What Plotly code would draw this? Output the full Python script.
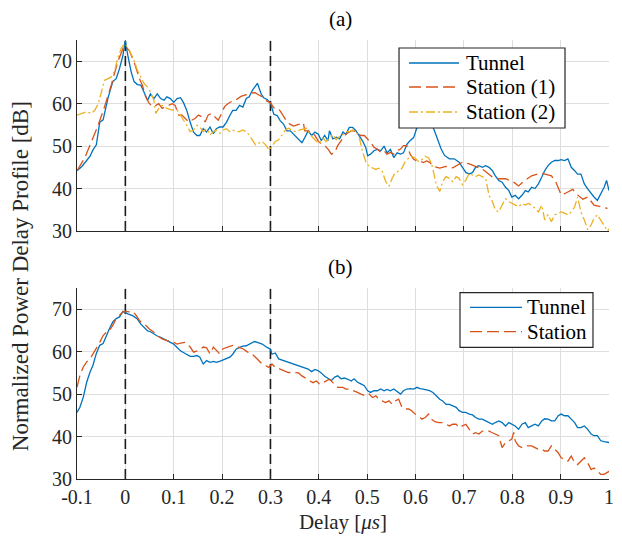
import plotly.graph_objects as go

# ---------------- data ----------------
# (a) Tunnel
a_tunnel_x = [-0.1, -0.09, -0.08, -0.073, -0.067, -0.06, -0.053, -0.046, -0.036, -0.026, -0.019, -0.012, -0.005, 0.0,
              0.005, 0.012, 0.018, 0.025, 0.032, 0.039, 0.046, 0.052, 0.059, 0.066, 0.073, 0.08, 0.086, 0.093, 0.1,
              0.107, 0.114, 0.12, 0.127, 0.134, 0.141, 0.148, 0.154, 0.161, 0.168, 0.175, 0.182, 0.188, 0.195, 0.202,
              0.209, 0.216, 0.222, 0.229, 0.236, 0.243, 0.25, 0.256, 0.263, 0.273, 0.281, 0.286, 0.293, 0.3, 0.307,
              0.314, 0.32, 0.327, 0.334, 0.341, 0.348, 0.354, 0.365, 0.371, 0.378, 0.385, 0.392, 0.399, 0.405, 0.412,
              0.419, 0.422, 0.429, 0.436, 0.443, 0.45, 0.456, 0.463, 0.47, 0.477, 0.484, 0.49, 0.497, 0.501, 0.507,
              0.514, 0.521, 0.528, 0.535, 0.541, 0.548, 0.555, 0.562, 0.569, 0.575, 0.582, 0.589, 0.596, 0.603, 0.612,
              0.62, 0.629, 0.639, 0.646, 0.653, 0.66, 0.67, 0.68, 0.69, 0.697, 0.704, 0.711, 0.718, 0.724, 0.731,
              0.738, 0.745, 0.752, 0.759, 0.765, 0.772, 0.779, 0.786, 0.793, 0.799, 0.806, 0.813, 0.82, 0.827, 0.833,
              0.84, 0.847, 0.854, 0.861, 0.867, 0.874, 0.881, 0.888, 0.895, 0.901, 0.908, 0.915, 0.922, 0.929, 0.935,
              0.942, 0.949, 0.956, 0.963, 0.969, 0.976, 0.983, 0.99, 0.995, 1.0]
a_tunnel_y = [44.2, 45.2, 46.6, 47.6, 49.1, 50.3, 55.6, 56.2, 61.3, 65.2, 65.9, 68.3, 71.4, 74.9,
              71.4, 67.5, 65.2, 64.5, 64.4, 62.4, 60.8, 62.3, 61.2, 62.3, 61.2, 60.8, 61.6, 61.2, 60.3,
              61.2, 61.4, 60.3, 58.4, 55.6, 53.3, 52.5, 52.5, 54.1, 53.3, 54.5, 52.9, 54.1, 54.5, 54.5,
              55.6, 57.2, 58.4, 58.4, 59.6, 59.2, 61.2, 61.6, 63.2, 64.8, 62.2, 61.4, 61.0, 60.2, 57.5,
              57.2, 56.0, 55.2, 53.6, 53.6, 52.8, 52.0, 50.8, 52.0, 53.6, 52.5, 53.3, 52.8, 51.3, 52.5,
              51.3, 53.6, 51.7, 52.1, 51.7, 53.3, 52.8, 54.4, 54.4, 53.6, 52.5, 51.3, 49.7, 47.7, 48.1,
              48.9, 49.2, 48.9, 50.0, 48.4, 49.2, 47.3, 48.4, 48.1, 48.4, 50.4, 51.3, 52.0, 54.4, 56.5,
              57.5, 56.6, 53.6, 51.3, 49.3, 47.8, 47.0, 47.0, 46.2, 45.0, 43.8, 43.4, 43.8, 45.0, 45.4,
              45.0, 45.4, 45.0, 44.2, 43.0, 41.9, 41.5, 40.3, 39.5, 38.0, 38.4, 37.6, 38.4, 39.5, 39.2,
              40.3, 40.0, 41.1, 42.7, 44.2, 45.4, 46.2, 46.6, 46.6, 46.8, 46.6, 47.0, 45.0, 44.2, 43.4,
              43.4, 41.1, 39.9, 38.8, 38.0, 37.2, 38.8, 40.3, 41.9, 39.5]

# (a) Station (1)
a_st1_x = [-0.1, -0.084, -0.07, -0.056, -0.043, -0.029, -0.016, -0.005, 0.0, 0.008, 0.018, 0.029, 0.035, 0.042,
           0.049, 0.056, 0.063, 0.069, 0.076, 0.083, 0.09, 0.097, 0.103, 0.11, 0.117, 0.124, 0.131, 0.137, 0.144,
           0.151, 0.158, 0.165, 0.171, 0.178, 0.185, 0.192, 0.199, 0.205, 0.212, 0.219, 0.229, 0.239, 0.25, 0.26,
           0.268, 0.276, 0.286, 0.293, 0.3, 0.307, 0.314, 0.32, 0.324, 0.334, 0.341, 0.348, 0.358, 0.368, 0.371,
           0.378, 0.385, 0.392, 0.399, 0.405, 0.412, 0.419, 0.426, 0.433, 0.439, 0.45, 0.456, 0.467, 0.473, 0.48,
           0.487, 0.494, 0.507, 0.514, 0.521, 0.528, 0.535, 0.541, 0.548, 0.555, 0.562, 0.569, 0.575, 0.582, 0.589,
           0.596, 0.603, 0.609, 0.616, 0.623, 0.63, 0.637, 0.65, 0.663, 0.677, 0.697, 0.711, 0.724, 0.738, 0.759,
           0.772, 0.786, 0.803, 0.813, 0.827, 0.84, 0.854, 0.864, 0.881, 0.891, 0.901, 0.912, 0.925, 0.935, 0.946,
           0.956, 0.969, 0.983, 0.997]
a_st1_y = [44.2, 47.2, 51.1, 55.0, 59.3, 64.4, 69.8, 73.0, 73.5, 72.5, 69.8, 65.9, 64.4, 61.6,
           60.1, 59.3, 59.6, 60.0, 58.9, 59.3, 59.6, 60.0, 59.6, 57.3, 57.3, 56.5, 55.7, 56.1, 56.5,
           57.3, 56.9, 55.7, 57.3, 57.7, 56.9, 56.1, 57.7, 59.3, 60.0, 60.5, 60.9, 61.7, 62.1, 62.5,
           62.6, 62.1, 61.4, 60.6, 60.2, 59.0, 59.0, 58.3, 57.5, 55.8, 55.1, 54.7, 55.1, 55.5, 53.6,
           53.6, 53.3, 52.5, 51.1, 50.5, 50.1, 49.3, 48.1, 48.5, 50.1, 52.0, 52.8, 53.6, 53.6, 52.8,
           52.5, 52.5, 50.9, 49.7, 49.3, 48.5, 48.9, 48.1, 48.5, 48.1, 48.9, 49.3, 50.1, 50.1, 48.1,
           46.9, 46.5, 46.5, 46.1, 46.5, 46.1, 45.2, 44.8, 45.2, 44.9, 46.2, 45.8, 45.2, 44.6, 42.7,
           42.3, 42.3, 41.5, 40.6, 42.0, 43.0, 43.5, 43.5, 43.0, 41.3, 38.5, 39.0, 39.8, 38.5, 37.5,
           38.0, 36.1, 35.7, 35.3]

# (a) Station (2)
a_st2_x = [-0.1, -0.09, -0.08, -0.07, -0.063, -0.056, -0.05, -0.043, -0.036, -0.029, -0.022, -0.016, -0.009, -0.002,
           0.005, 0.012, 0.018, 0.025, 0.032, 0.039, 0.046, 0.052, 0.059, 0.063, 0.069, 0.076, 0.086, 0.097, 0.107,
           0.114, 0.12, 0.127, 0.134, 0.141, 0.148, 0.154, 0.161, 0.168, 0.175, 0.182, 0.188, 0.195, 0.202, 0.209,
           0.216, 0.222, 0.229, 0.236, 0.243, 0.25, 0.256, 0.263, 0.269, 0.276, 0.283, 0.29, 0.297, 0.303, 0.31,
           0.317, 0.324, 0.331, 0.337, 0.344, 0.351, 0.361, 0.375, 0.382, 0.388, 0.395, 0.402, 0.409, 0.415, 0.422,
           0.429, 0.436, 0.443, 0.45, 0.456, 0.463, 0.47, 0.477, 0.484, 0.49, 0.497, 0.504, 0.511, 0.518, 0.524,
           0.531, 0.538, 0.545, 0.552, 0.558, 0.565, 0.572, 0.579, 0.586, 0.592, 0.599, 0.606, 0.613, 0.62, 0.627,
           0.633, 0.643, 0.65, 0.656, 0.663, 0.67, 0.677, 0.684, 0.69, 0.697, 0.704, 0.711, 0.718, 0.724, 0.731,
           0.738, 0.745, 0.752, 0.759, 0.765, 0.772, 0.779, 0.786, 0.793, 0.799, 0.806, 0.813, 0.82, 0.827, 0.833,
           0.84, 0.847, 0.854, 0.861, 0.867, 0.874, 0.881, 0.888, 0.895, 0.901, 0.908, 0.915, 0.922, 0.929, 0.935,
           0.942, 0.949, 0.956, 0.963, 0.969, 0.976, 0.983, 0.99, 0.997, 1.0]
a_st2_y = [57.3, 57.7, 58.1, 57.7, 58.5, 60.0, 62.3, 65.5, 65.9, 66.3, 67.8, 70.6, 72.9, 74.1,
           73.3, 71.4, 70.2, 67.8, 66.3, 64.7, 63.9, 62.7, 60.8, 57.7, 58.9, 59.6, 58.9, 58.5, 58.5,
           57.3, 56.1, 54.9, 53.4, 53.8, 54.9, 54.5, 53.4, 54.1, 52.6, 53.4, 53.8, 53.0, 53.8, 54.1,
           53.4, 53.8, 53.4, 53.4, 53.8, 53.4, 52.6, 51.4, 50.3, 50.7, 51.1, 50.3, 49.1, 49.9, 51.1,
           51.5, 52.7, 53.8, 54.2, 53.8, 53.4, 53.8, 54.2, 52.7, 51.9, 51.1, 50.7, 51.9, 51.1, 51.9,
           52.7, 51.5, 52.3, 52.7, 53.4, 53.4, 53.8, 53.4, 51.9, 48.8, 46.4, 45.2, 44.8, 44.5, 44.8,
           44.1, 41.7, 40.5, 42.5, 43.7, 44.1, 44.8, 46.4, 47.2, 47.6, 47.2, 46.4, 46.8, 47.6, 47.2,
           46.0, 40.9, 39.3, 41.6, 42.8, 42.4, 41.6, 42.8, 42.4, 40.9, 42.0, 43.6, 43.2, 42.8, 43.2,
           42.8, 42.4, 38.4, 36.9, 34.9, 34.5, 36.1, 37.6, 36.9, 36.5, 36.1, 35.7, 36.5, 36.1, 36.5,
           36.1, 35.3, 34.5, 36.1, 32.6, 33.8, 32.2, 33.8, 34.2, 34.5, 34.2, 33.8, 34.5, 35.7, 38.0,
           34.5, 32.6, 30.3, 31.4, 33.0, 33.8, 32.6, 31.1, 30.0, 30.5]

# (b) Tunnel
b_tunnel_x = [-0.1, -0.094, -0.087, -0.08, -0.073, -0.067, -0.06, -0.053, -0.046, -0.039, -0.033, -0.026, -0.019,
              -0.012, -0.005, 0.005, 0.015, 0.025, 0.032, 0.039, 0.046, 0.052, 0.059, 0.066, 0.073, 0.08, 0.086,
              0.093, 0.1, 0.107, 0.114, 0.12, 0.127, 0.134, 0.141, 0.148, 0.154, 0.161, 0.168, 0.175, 0.182, 0.188,
              0.195, 0.202, 0.209, 0.216, 0.222, 0.229, 0.236, 0.243, 0.25, 0.256, 0.267, 0.273, 0.283, 0.293, 0.3,
              0.303, 0.31, 0.317, 0.327, 0.337, 0.348, 0.358, 0.368, 0.378, 0.385, 0.392, 0.399, 0.405, 0.412, 0.419,
              0.426, 0.433, 0.439, 0.446, 0.453, 0.46, 0.467, 0.473, 0.48, 0.487, 0.494, 0.501, 0.507, 0.514, 0.521,
              0.528, 0.535, 0.541, 0.548, 0.555, 0.562, 0.569, 0.575, 0.582, 0.589, 0.596, 0.603, 0.609, 0.616, 0.623,
              0.629, 0.636, 0.643, 0.65, 0.656, 0.663, 0.67, 0.677, 0.684, 0.69, 0.697, 0.704, 0.711, 0.718, 0.724,
              0.731, 0.738, 0.745, 0.752, 0.759, 0.765, 0.772, 0.779, 0.786, 0.793, 0.799, 0.806, 0.813, 0.82, 0.827,
              0.833, 0.84, 0.847, 0.854, 0.861, 0.867, 0.874, 0.881, 0.888, 0.895, 0.901, 0.908, 0.915, 0.922, 0.929,
              0.935, 0.942, 0.949, 0.956, 0.963, 0.969, 0.976, 0.983, 0.99, 1.0]
b_tunnel_y = [45.7, 46.9, 49.3, 52.8, 55.2, 56.8, 59.6, 61.5, 61.9, 63.9, 65.4, 67.0, 67.8,
              68.2, 69.5, 68.9, 68.5, 67.7, 66.5, 65.7, 64.9, 64.7, 64.1, 63.7, 63.4, 63.0, 62.6,
              62.2, 61.8, 61.0, 60.2, 59.8, 59.4, 58.9, 58.9, 59.1, 58.7, 57.1, 57.9, 57.5, 57.7, 57.5,
              57.7, 58.0, 58.3, 58.7, 59.4, 60.6, 61.0, 61.3, 61.4, 61.8, 62.4, 62.2, 61.8, 61.0, 60.6,
              59.4, 59.7, 58.3, 57.9, 57.5, 57.1, 56.7, 56.3, 55.9, 55.3, 55.8, 55.5, 55.0, 54.2, 53.6,
              53.2, 54.0, 54.3, 53.6, 53.8, 53.5, 53.1, 53.6, 52.8, 52.4, 52.0, 50.8, 50.4, 50.8, 50.8,
              51.2, 50.8, 51.1, 50.8, 51.2, 50.7, 50.0, 50.8, 51.2, 51.3, 51.2, 51.6, 51.3, 51.2, 51.0,
              50.8, 50.4, 49.6, 48.8, 48.4, 47.6, 47.6, 47.2, 46.9, 46.1, 45.7, 45.7, 45.3, 45.1, 44.5,
              44.1, 44.1, 43.7, 43.3, 42.9, 43.3, 43.7, 43.3, 42.5, 43.3, 42.9, 42.5, 41.7, 42.9, 43.3,
              42.1, 42.5, 42.9, 42.5, 43.7, 44.2, 44.1, 43.7, 43.7, 44.9, 45.3, 44.9, 44.9, 44.1, 43.3,
              42.1, 42.1, 42.5, 41.7, 40.6, 40.2, 40.2, 39.0, 38.8, 38.6]

# (b) Station
b_st_x = [-0.1, -0.094, -0.087, -0.08, -0.073, -0.067, -0.06, -0.053, -0.046, -0.039, -0.033, -0.026, -0.019, -0.012,
          -0.005, 0.001, 0.008, 0.015, 0.022, 0.029, 0.035, 0.042, 0.049, 0.059, 0.066, 0.076, 0.086, 0.097, 0.107,
          0.114, 0.124, 0.134, 0.141, 0.151, 0.161, 0.168, 0.175, 0.182, 0.188, 0.195, 0.202, 0.212, 0.222, 0.233,
          0.243, 0.253, 0.263, 0.269, 0.276, 0.283, 0.29, 0.297, 0.303, 0.31, 0.32, 0.327, 0.337, 0.348, 0.358,
          0.365, 0.375, 0.382, 0.388, 0.395, 0.402, 0.409, 0.415, 0.422, 0.429, 0.439, 0.45, 0.456, 0.463, 0.473,
          0.48, 0.487, 0.497, 0.504, 0.511, 0.518, 0.524, 0.531, 0.538, 0.545, 0.552, 0.558, 0.565, 0.572, 0.579,
          0.586, 0.592, 0.599, 0.606, 0.613, 0.62, 0.627, 0.633, 0.64, 0.648, 0.656, 0.663, 0.67, 0.677, 0.684,
          0.69, 0.697, 0.704, 0.718, 0.724, 0.731, 0.738, 0.745, 0.752, 0.759, 0.765, 0.772, 0.779, 0.786, 0.793,
          0.799, 0.803, 0.806, 0.813, 0.82, 0.827, 0.833, 0.84, 0.847, 0.854, 0.861, 0.867, 0.874, 0.881, 0.888,
          0.895, 0.901, 0.908, 0.915, 0.922, 0.929, 0.935, 0.942, 0.949, 0.956, 0.963, 0.969, 0.976, 0.983, 0.99,
          1.0]
b_st_y = [51.6, 54.4, 56.4, 57.6, 58.3, 59.4, 60.6, 62.2, 63.8, 64.6, 65.0, 66.2, 67.8, 68.6,
          69.4, 69.5, 69.4, 69.5, 68.6, 67.4, 66.6, 66.2, 65.4, 64.6, 63.8, 63.0, 62.6, 62.4, 61.8,
          62.0, 62.2, 61.1, 59.9, 60.3, 61.1, 60.9, 59.5, 61.1, 60.3, 59.5, 60.7, 61.1, 61.5, 61.1,
          60.7, 59.9, 59.3, 58.7, 57.9, 57.1, 56.7, 56.3, 57.1, 56.3, 55.9, 55.5, 55.1, 55.1, 55.0,
          54.3, 53.5, 53.1, 52.7, 53.1, 52.3, 52.7, 53.1, 53.5, 52.7, 51.6, 51.6, 51.2, 51.2, 50.8,
          50.4, 50.0, 49.6, 50.0, 49.2, 49.6, 48.8, 48.4, 48.0, 48.4, 47.6, 48.4, 48.8, 46.9, 46.5,
          46.5, 46.1, 45.3, 44.9, 44.1, 44.5, 45.3, 44.1, 43.5, 43.3, 43.3, 42.9, 42.5, 42.9, 42.9,
          42.1, 42.5, 42.9, 40.6, 40.9, 40.6, 41.3, 41.3, 41.3, 40.9, 40.6, 40.2, 37.4, 38.6, 39.0,
          39.4, 41.0, 39.0, 37.8, 37.4, 37.8, 37.8, 37.8, 37.4, 37.0, 37.0, 36.6, 36.6, 37.8, 37.0,
          36.2, 35.0, 34.6, 34.2, 35.4, 33.8, 33.4, 34.2, 35.0, 33.8, 32.2, 32.6, 31.8, 31.1, 31.1,
          31.8]

x_tick_vals = [-0.1, 0, 0.1, 0.2, 0.3, 0.4, 0.5, 0.6, 0.7, 0.8, 0.9, 1.0]
x_tick_text = ["-0.1", "0", "0.1", "0.2", "0.3", "0.4", "0.5", "0.6", "0.7", "0.8", "0.9", "1"]
y_tick_vals = [30, 40, 50, 60, 70]
y_range = [30, 75]
x_range = [-0.1, 1.0]
marker_delays = [0, 0.3]

legend_a_names = ["Tunnel", "Station (1)", "Station (2)"]
legend_b_names = ["Tunnel", "Station"]

BLUE = "#0072BD"
ORANGE = "#D95319"
YELLOW = "#EDB120"
FONT = "Liberation Serif"
AX = "#262626"
DASH = "12px,5px"
DASHDOT = "9px,3px,2px,3px"

fig = go.Figure()

# vertical dashed markers (drawn first so data lies on top)
for xa, ya in [("x", "y"), ("x2", "y2")]:
    for d in marker_delays:
        fig.add_trace(go.Scatter(x=[d, d], y=y_range, mode="lines", showlegend=False, hoverinfo="skip",
                                 line=dict(color="#1a1a1a", width=1.6, dash="10px,5px"), xaxis=xa, yaxis=ya))

fig.add_trace(go.Scatter(x=a_tunnel_x, y=a_tunnel_y, mode="lines", name=legend_a_names[0], showlegend=False,
                         line=dict(color=BLUE, width=1.3), xaxis="x", yaxis="y"))
fig.add_trace(go.Scatter(x=a_st1_x, y=a_st1_y, mode="lines", name=legend_a_names[1], showlegend=False,
                         line=dict(color=ORANGE, width=1.3, dash=DASH), xaxis="x", yaxis="y"))
fig.add_trace(go.Scatter(x=a_st2_x, y=a_st2_y, mode="lines", name=legend_a_names[2], showlegend=False,
                         line=dict(color=YELLOW, width=1.3, dash=DASHDOT), xaxis="x", yaxis="y"))
fig.add_trace(go.Scatter(x=b_tunnel_x, y=b_tunnel_y, mode="lines", name=legend_b_names[0], showlegend=False,
                         line=dict(color=BLUE, width=1.3), xaxis="x2", yaxis="y2"))
fig.add_trace(go.Scatter(x=b_st_x, y=b_st_y, mode="lines", name=legend_b_names[1], showlegend=False,
                         line=dict(color=ORANGE, width=1.3, dash=DASH), xaxis="x2", yaxis="y2"))

# ---- legend boxes (MATLAB-style, compact rows) ----
shapes = []
annotations = []


def add_legend(box, rows, names, styles, line_x, text_x):
    shapes.append(dict(type="rect", xref="paper", yref="paper", x0=box[0], x1=box[1], y0=box[2], y1=box[3],
                       fillcolor="white", line=dict(color=AX, width=1.2), layer="above"))
    for yy, nm, (col, dsh) in zip(rows, names, styles):
        shapes.append(dict(type="line", xref="paper", yref="paper", x0=line_x[0], x1=line_x[1], y0=yy, y1=yy,
                           line=dict(color=col, width=1.3, dash=dsh), layer="above"))
        annotations.append(dict(text=nm, x=text_x, y=yy, xref="paper", yref="paper", xanchor="left",
                                yanchor="middle", showarrow=False,
                                font=dict(family=FONT, size=21, color="black")))


add_legend([0.6053, 0.9173, 0.7995, 0.9818], [0.9476, 0.8929, 0.8360], legend_a_names,
           [(BLUE, "solid"), (ORANGE, DASH), (YELLOW, DASHDOT)], [0.6241, 0.7180], 0.7274)
add_legend([0.7199, 0.9699, 0.3000, 0.4244], [0.3911, 0.3355], legend_b_names,
           [(BLUE, "solid"), (ORANGE, DASH)], [0.7387, 0.8365], 0.8425)

annotations += [
    dict(text="(a)", x=0.4962, y=1.0, xref="paper", yref="paper", xanchor="center", yanchor="middle",
         yshift=21, showarrow=False, font=dict(family=FONT, size=21, color="black")),
    dict(text="(b)", x=0.4962, y=0.435, xref="paper", yref="paper", xanchor="center", yanchor="middle",
         yshift=21, showarrow=False, font=dict(family=FONT, size=21, color="black")),
    dict(text="Normalized Power Delay Profile [dB]", x=0, y=0.462, xref="paper", yref="paper",
         xanchor="center", yanchor="middle", xshift=-57, textangle=-90, showarrow=False,
         font=dict(family=FONT, size=23, color=AX)),
]

axis_common = dict(range=x_range, tickvals=x_tick_vals, ticktext=x_tick_text, automargin=False,
                   ticklabeloverflow="allow",
                   showgrid=True, gridcolor="#dedede", gridwidth=1, zeroline=False,
                   showline=True, linecolor=AX, linewidth=1.2, ticks="inside", ticklen=5,
                   tickcolor=AX, tickfont=dict(family=FONT, size=20, color=AX), mirror=False)
yaxis_common = dict(range=y_range, tickvals=y_tick_vals, automargin=False, showgrid=True, gridcolor="#dedede",
                    gridwidth=1, zeroline=False, showline=True, linecolor=AX, linewidth=1.2, ticks="inside",
                    ticklen=5, tickcolor=AX, tickfont=dict(family=FONT, size=20, color=AX), mirror=False)

# the page shows the figure offset by 8px with ~614px of usable width, so the figure is sized to fit inside it
fig.update_layout(
    width=606, height=526,
    margin=dict(l=69, r=5, t=32, b=55, autoexpand=False),
    paper_bgcolor="white", plot_bgcolor="white",
    font=dict(family=FONT, color="black"),
    showlegend=False,
    xaxis=dict(axis_common, domain=[0, 1], anchor="y", showticklabels=False),
    yaxis=dict(yaxis_common, domain=[0.565, 1.0], anchor="x"),
    xaxis2=dict(axis_common, domain=[0, 1], anchor="y2",
                title=dict(text="Delay [<i>μs</i>]", font=dict(family=FONT, size=21, color=AX), standoff=10)),
    yaxis2=dict(yaxis_common, domain=[0.0, 0.435], anchor="x2"),
    shapes=shapes,
    annotations=annotations,
)

fig.write_html("out.html")
